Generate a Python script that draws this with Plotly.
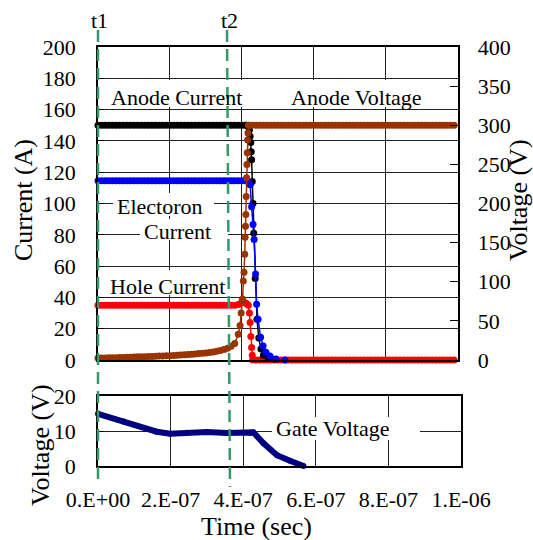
import plotly.graph_objects as go

# ---------------- data (time in ns) ----------------
T_PRE = [0, 10, 20, 30, 40, 50, 60, 70, 80, 90,
         100, 110, 120, 130, 140, 150, 160, 170, 180, 190,
         200, 210, 220, 230, 240, 250, 260, 270, 280, 290,
         300, 310, 320, 330, 340, 350, 360, 370, 380, 390,
         400, 410]

T_TAIL = [420, 430, 440, 450, 460, 470, 480, 490, 500, 510,
          520, 530, 540, 550, 560, 570, 580, 590, 600, 610,
          620, 630, 640, 650, 660, 670, 680, 690, 700, 710,
          720, 730, 740, 750, 760, 770, 780, 790, 800, 810,
          820, 830, 840, 850, 860, 870, 880, 890, 900, 910,
          920, 930, 940, 950, 960, 970, 980, 990, 1000]

# Anode current (A)
T_ANODE_I = T_PRE + [413, 418, 421, 423, 425, 426, 427, 429, 431, 433, 437, 442, 447, 453, 460, 473, 490]
ANODE_I = [150, 150, 150, 150, 150, 150, 150, 150, 150, 150,
           150, 150, 150, 150, 150, 150, 150, 150, 150, 150,
           150, 150, 150, 150, 150, 150, 150, 150, 150, 150,
           150, 150, 150, 150, 150, 150, 150, 150, 150, 150,
           150, 150,
           150, 149, 147, 143, 139, 133, 128, 114, 100, 81, 52, 26, 14, 7, 3, 1.5, 0.5]

# Electron current (A)
T_ELEC = T_PRE + [413, 418, 423, 427, 431, 434, 438, 441, 445, 452, 459, 467, 478, 495, 520]
ELEC = [114.5, 114.5, 114.5, 114.5, 114.5, 114.5, 114.5, 114.5, 114.5, 114.5,
        114.5, 114.5, 114.5, 114.5, 114.5, 114.5, 114.5, 114.5, 114.5, 114.5,
        114.5, 114.5, 114.5, 114.5, 114.5, 114.5, 114.5, 114.5, 114.5, 114.5,
        114.5, 114.5, 114.5, 114.5, 114.5, 114.5, 114.5, 114.5, 114.5, 114.5,
        114.5, 114.5,
        114.5, 114, 112, 98, 86.6, 77, 55, 35.7, 26, 14.6, 9, 5, 2.5, 0.6, 0]

# Hole current (A)
T_HOLE = T_PRE + [413, 418, 421, 423, 425, 427, 429] + T_TAIL[1:]
HOLE = [35, 35, 35, 35, 35, 35, 35, 35, 35, 35,
        35, 35, 35, 35, 35, 35, 35, 35, 35, 35,
        35, 35, 35, 35, 35, 35, 35, 35, 35, 35,
        35, 35, 35, 35, 35, 35, 35, 35, 35, 35.5,
        37, 36.5,
        36, 35, 30, 24, 15, 8, 3,
        0, 0, 0, 0, 0, 0, 0, 0, 0, 0,
        0, 0, 0, 0, 0, 0, 0, 0, 0, 0,
        0, 0, 0, 0, 0, 0, 0, 0, 0, 0,
        0, 0, 0, 0, 0, 0, 0, 0, 0, 0,
        0, 0, 0, 0, 0, 0, 0, 0, 0, 0,
        0, 0, 0, 0, 0, 0, 0, 0]

# Anode voltage (V)
T_VOLT = T_PRE[:40] + [395, 398, 401, 402, 404, 406, 408, 409, 410, 411, 412, 413, 414, 415, 416, 417, 418] + T_TAIL
VOLT = [2.5, 2.6, 2.7, 2.8, 2.9, 3.0, 3.1, 3.3, 3.4, 3.6,
        3.8, 4.0, 4.1, 4.3, 4.4, 4.6, 4.8, 5.0, 5.1, 5.3,
        5.5, 5.8, 6.1, 6.4, 6.7, 7.0, 7.4, 7.8, 8.2, 8.6,
        9.0, 9.6, 10.3, 11.2, 12.2, 13.5, 15.0, 17.5, 21.0, 33.0,
        44, 60, 76, 78, 101, 112, 135, 157, 171, 186, 209, 233, 250, 265, 281, 290, 300,
        300, 300, 300, 300, 300, 300, 300, 300, 300, 300,
        300, 300, 300, 300, 300, 300, 300, 300, 300, 300,
        300, 300, 300, 300, 300, 300, 300, 300, 300, 300,
        300, 300, 300, 300, 300, 300, 300, 300, 300, 300,
        300, 300, 300, 300, 300, 300, 300, 300, 300, 300,
        300, 300, 300, 300, 300, 300, 300, 300, 300]

# Gate voltage (V)
T_GATE = [0, 70, 162, 199, 245, 300, 355, 419, 428, 456, 493, 529, 566]
GATE = [14.9, 12.7, 9.8, 9.2, 9.5, 9.7, 9.4, 9.5, 9.6, 6.5, 3.1, 1.5, 0.0]

X_TICKS = [0, 2e-7, 4e-7, 6e-7, 8e-7, 1e-6]
X_TICK_TEXT = ["0.E+00", "2.E-07", "4.E-07", "6.E-07", "8.E-07", "1.E-06"]
Y_CURRENT_TICKS = [0, 20, 40, 60, 80, 100, 120, 140, 160, 180, 200]
Y_VOLT_TICKS = [0, 50, 100, 150, 200, 250, 300, 350, 400]
Y_GATE_TICKS = [0, 10, 20]

# ---------------- styling ----------------
FONT = "Times New Roman, Liberation Serif, Times, serif"
W, H = 533, 540
ML, MR, MT, MB = 98, 72, 47, 74
PW, PH = W - ML - MR, H - MT - MB


def px(x):
    return (x - ML) / PW


def py(y):
    return (H - MB - y) / PH


def sec(ts):
    return [t * 1e-9 for t in ts]


fig = go.Figure()

fig.add_trace(go.Scatter(x=sec(T_HOLE), y=HOLE, mode="lines+markers", xaxis="x", yaxis="y",
                         line=dict(color="#ff0000", width=1.5),
                         marker=dict(color="#ff0000", size=7), cliponaxis=False))
fig.add_trace(go.Scatter(x=sec(T_ANODE_I), y=ANODE_I, mode="lines+markers", xaxis="x", yaxis="y",
                         line=dict(color="#000000", width=1.5),
                         marker=dict(color="#000000", size=7), cliponaxis=False))
fig.add_trace(go.Scatter(x=sec(T_ELEC), y=ELEC, mode="lines+markers", xaxis="x", yaxis="y",
                         line=dict(color="#0000ff", width=1.5),
                         marker=dict(color="#0000ff", size=7), cliponaxis=False))
fig.add_trace(go.Scatter(x=sec(T_VOLT), y=VOLT, mode="lines+markers", xaxis="x", yaxis="y2",
                         line=dict(color="#993300", width=1.5),
                         marker=dict(color="#993300", size=7), cliponaxis=False))
fig.add_trace(go.Scatter(x=sec(T_GATE), y=GATE, mode="lines+markers", xaxis="x2", yaxis="y3",
                         line=dict(color="#000080", width=6),
                         marker=dict(color="#000080", size=6), cliponaxis=False))

GRID = "#222222"
tickfont = dict(family=FONT, size=22, color="black")

fig.update_layout(
    width=W, height=H, autosize=False,
    margin=dict(l=ML, r=MR, t=MT, b=MB),
    paper_bgcolor="white", plot_bgcolor="white",
    showlegend=False,
    font=dict(family=FONT, color="black"),
    xaxis=dict(domain=[0, px(457.7)], anchor="y", range=[0, 1e-6],
               tickvals=X_TICKS, showticklabels=False, ticks="",
               showgrid=True, gridcolor=GRID, gridwidth=1, zeroline=False,
               showline=True, linecolor="black", linewidth=1.5, mirror=True),
    yaxis=dict(domain=[py(360), 1], anchor="x", range=[0, 200],
               tickvals=Y_CURRENT_TICKS, ticks="inside", ticklen=6, tickcolor="black",
               showgrid=True, gridcolor=GRID, gridwidth=1, zeroline=False,
               showline=True, linecolor="black", linewidth=1.5, mirror=True,
               tickfont=tickfont, ticklabelstandoff=16),
    yaxis2=dict(overlaying="y", side="right", anchor="x", range=[0, 400],
                tickvals=Y_VOLT_TICKS, ticks="inside", ticklen=8, tickcolor="black",
                showgrid=False, zeroline=False,
                showline=True, linecolor="black", linewidth=1.5,
                tickfont=tickfont, ticklabelstandoff=14),
    xaxis2=dict(domain=[0, 1], anchor="y3", range=[0, 1e-6],
                tickvals=X_TICKS, ticktext=X_TICK_TEXT, ticks="",
                showgrid=True, gridcolor=GRID, gridwidth=1, zeroline=False,
                showline=True, linecolor="black", linewidth=1.5, mirror=True,
                tickfont=tickfont, ticklabelstandoff=13),
    yaxis3=dict(domain=[0, py(396)], anchor="x2", range=[0, 20],
                tickvals=Y_GATE_TICKS, ticks="inside", ticklen=6, tickcolor="black",
                showgrid=True, gridcolor=GRID, gridwidth=1, zeroline=False,
                showline=True, linecolor="black", linewidth=1.5, mirror=True,
                tickfont=tickfont, ticklabelstandoff=16),
)

# white label boxes covering grid lines
boxes = [
    (104, 80, 258, 107),   # Anode Current
    (283, 80, 448, 107),   # Anode Voltage
    (113, 193, 214, 216),  # Electoron
    (140, 219, 228, 240),  # Current
    (104, 270, 230, 295),  # Hole Current
    (272, 417, 420, 440),  # Gate Voltage
]
for x0, y0, x1, y1 in boxes:
    fig.add_shape(type="rect", xref="paper", yref="paper",
                  x0=px(x0), x1=px(x1), y0=py(y1), y1=py(y0),
                  fillcolor="white", line=dict(width=0), layer="above")

# t1 / t2 dashed markers
for (xa, ya, xb, yb) in [(98, 30, 98, 485), (227, 30, 230, 487)]:
    fig.add_shape(type="line", xref="paper", yref="paper",
                  x0=px(xa), y0=py(ya), x1=px(xb), y1=py(yb),
                  line=dict(color="#339966", width=2.5, dash="12px,7px"), layer="above")


def label(text, x, y, size=22, angle=0):
    fig.add_annotation(text=text, xref="paper", yref="paper", x=px(x), y=py(y),
                       xanchor="center", yanchor="middle", showarrow=False,
                       textangle=angle, font=dict(family=FONT, size=size, color="black"))


label("Anode Current", 176, 98)
label("Anode Voltage", 356, 98)
label("Electoron", 160, 206)
label("Current", 177, 231)
label("Hole Current", 167, 286)
label("Gate Voltage", 332, 428)
label("t1", 99, 20)
label("t2", 229, 20)
label("Current (A)", 23, 200, size=26, angle=-90)
label("Voltage (V)", 518, 200, size=26, angle=-90)
label("Voltage (V)", 40, 445, size=26, angle=-90)
label("Time (sec)", 256, 526, size=26)

fig.write_html("out.html")
